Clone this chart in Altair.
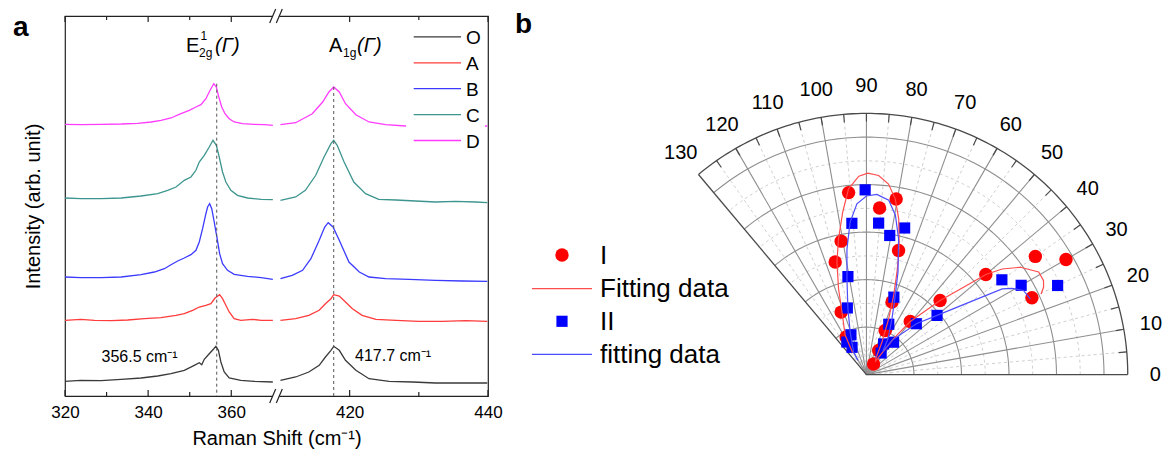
import altair as alt
import numpy as np
import pandas as pd

FONT = "Liberation Sans"

# ---------------- panel a: Raman spectra ----------------
SERIES = ["O", "A", "B", "C", "D"]
COLORS = ["#3a3a3a", "#ff3b3b", "#3b3bff", "#3d958f", "#ff3bff"]

# E2g region (low shift)
O_LOW_W = [320.0, 323.8, 328.7, 333.5, 338.3, 342.3, 345.5, 348.7, 351.1, 352.3, 352.9, 353.5, 354.7, 355.8, 356.3, 356.9, 357.5, 358.3, 359.5, 362.3, 365.5, 370.0]
O_LOW_I = [14.7, 15.7, 15.3, 16.7, 18.0, 20.0, 22.3, 25.7, 30.7, 33.3, 31.3, 36.7, 42.3, 47.3, 49.7, 45.7, 34.0, 24.0, 18.0, 15.7, 14.7, 14.0]
A_LOW_W = [320.0, 323.8, 327.1, 331.1, 335.1, 339.1, 343.1, 345.1, 346.7, 348.7, 350.7, 352.3, 353.9, 355.1, 356.1, 357.2, 357.9, 358.7, 359.5, 360.7, 362.3, 365.1, 367.2, 370.0]
A_LOW_I = [75.7, 76.7, 75.7, 75.3, 76.0, 77.3, 78.3, 79.7, 80.7, 82.3, 85.7, 89.0, 90.7, 92.3, 98.0, 101.3, 97.3, 90.7, 84.0, 77.3, 75.7, 76.7, 75.7, 75.7]
B_LOW_W = [320.0, 323.8, 328.7, 333.5, 338.3, 341.5, 343.9, 345.5, 347.1, 348.7, 350.3, 351.5, 352.3, 353.1, 353.8, 354.3, 354.8, 355.3, 355.9, 356.6, 357.2, 357.9, 359.1, 360.7, 363.9, 367.2, 370.0]
B_LOW_I = [119.0, 118.3, 118.3, 119.0, 121.3, 124.0, 127.3, 131.3, 135.0, 138.0, 141.3, 145.7, 154.0, 167.3, 180.7, 189.0, 192.3, 187.3, 174.0, 157.3, 142.3, 132.3, 125.7, 121.7, 119.7, 118.3, 116.7]
C_LOW_W = [320.0, 323.8, 328.7, 333.5, 338.3, 342.3, 344.7, 346.7, 348.7, 350.3, 351.5, 352.3, 353.5, 354.7, 355.6, 356.4, 357.1, 357.9, 358.7, 359.9, 361.5, 363.9, 367.2, 370.0]
C_LOW_I = [198.0, 197.3, 197.3, 198.0, 200.0, 202.3, 205.7, 209.0, 215.7, 219.0, 225.7, 234.0, 240.7, 249.0, 255.7, 250.7, 239.0, 224.0, 214.0, 205.7, 200.7, 198.0, 196.7, 196.3]
D_LOW_W = [320.0, 323.8, 328.7, 333.5, 337.5, 340.7, 343.1, 345.5, 347.9, 349.9, 351.5, 352.7, 353.9, 354.9, 355.8, 356.4, 357.0, 357.7, 358.5, 359.5, 360.7, 362.7, 365.5, 368.0, 370.0]
D_LOW_I = [271.7, 271.3, 271.7, 272.0, 272.7, 274.0, 275.7, 278.0, 282.3, 285.7, 289.0, 291.3, 297.3, 305.7, 312.3, 309.0, 299.0, 289.0, 282.3, 277.3, 274.0, 272.3, 271.7, 271.3, 270.7]

# A1g region (high shift)
O_HIGH_W = [410.0, 412.2, 414.1, 415.6, 416.5, 417.3, 417.7, 418.5, 419.4, 420.9, 422.8, 425.7, 429.1, 432.4, 436.3, 439.9]
O_HIGH_I = [15.7, 19.0, 24.0, 30.7, 39.0, 45.7, 49.7, 45.7, 35.7, 25.7, 17.3, 14.7, 14.0, 13.0, 13.0, 13.0]
A_HIGH_W = [410.0, 412.2, 414.1, 415.6, 416.5, 417.3, 417.7, 418.5, 419.4, 420.4, 421.8, 423.8, 426.7, 430.0, 433.4, 436.8, 439.9]
A_HIGH_I = [75.7, 77.3, 80.7, 85.7, 92.3, 97.3, 101.3, 100.0, 94.0, 87.3, 80.7, 76.7, 75.7, 74.7, 74.7, 75.3, 74.7]
B_HIGH_W = [410.0, 411.7, 413.2, 414.4, 415.6, 416.4, 416.9, 417.6, 418.5, 419.9, 421.4, 422.8, 425.2, 428.6, 432.4, 436.3, 439.9]
B_HIGH_I = [117.3, 120.7, 125.7, 137.3, 155.7, 169.0, 173.3, 169.0, 155.7, 134.0, 124.0, 119.0, 117.3, 116.7, 115.7, 115.0, 114.7]
C_HIGH_W = [410.0, 412.2, 413.6, 415.1, 416.3, 417.3, 417.7, 418.2, 419.2, 420.6, 422.3, 424.2, 426.7, 429.5, 432.4, 435.3, 438.2, 439.9]
C_HIGH_I = [195.7, 199.0, 205.7, 220.7, 239.0, 252.3, 255.7, 250.7, 234.0, 214.0, 202.3, 196.7, 196.0, 195.0, 194.0, 194.7, 194.0, 193.3]
D_HIGH_W = [410.0, 412.2, 414.6, 416.1, 417.0, 417.7, 418.5, 419.4, 420.9, 422.8, 425.2, 428.1, 430.0, 432.4, 435.3, 439.9]
D_HIGH_I = [271.3, 273.3, 282.3, 294.0, 304.0, 309.0, 304.0, 292.3, 281.3, 274.0, 271.3, 270.0, 269.7, 269.7, 269.3, 270.0]

PEAKS = [356.5, 417.7]
AXIS_TICKS = [320, 330, 340, 350, 360, 420, 430, 440]
MAJOR_TICKS = [320, 340, 360, 420, 440]
MINOR_TICKS = [330, 350, 430]

SPECTRA = {
    "O": [(O_LOW_W, O_LOW_I), (O_HIGH_W, O_HIGH_I)],
    "A": [(A_LOW_W, A_LOW_I), (A_HIGH_W, A_HIGH_I)],
    "B": [(B_LOW_W, B_LOW_I), (B_HIGH_W, B_HIGH_I)],
    "C": [(C_LOW_W, C_LOW_I), (C_HIGH_W, C_HIGH_I)],
    "D": [(D_LOW_W, D_LOW_I), (D_HIGH_W, D_HIGH_I)],
}
rows = []
for s in SERIES:
    for seg, (ws, vals) in zip(["low", "high"], SPECTRA[s]):
        for w, v in zip(ws, vals):
            rows.append({"series": s, "segment": seg, "shift": w, "intensity": v})
spec_df = pd.DataFrame(rows)

A_W, A_H = 423, 380
BREAK = 212  # pixel position of the axis break
x_scale = alt.Scale(domain=[320, 371, 409.5, 440], range=[0, BREAK, BREAK, A_W], nice=False, zero=False)
y_scale = alt.Scale(domain=[0, 380], nice=False, zero=False)
FRAME = "#222222"

one = pd.DataFrame({"k": [0]})

spectra = alt.Chart(spec_df).mark_line(strokeWidth=1.3).encode(
    x=alt.X("shift:Q", scale=x_scale, title="Raman Shift (cm⁻¹)",
            axis=alt.Axis(values=AXIS_TICKS,
                          labelExpr="datum.value % 20 === 0 ? datum.label : ''",
                          ticks=False, domain=False, grid=False, labelFlush=False,
                          labelFontSize=17, labelPadding=8, labelColor="black",
                          titleFontSize=20, titleFontWeight="normal",
                          titlePadding=8, titleColor="black")),
    y=alt.Y("intensity:Q", scale=y_scale, title="Intensity (arb. unit)",
            axis=alt.Axis(labels=False, ticks=False, domain=False, grid=False, minExtent=0,
                          titleFontSize=20, titleFontWeight="normal",
                          titlePadding=22, titleColor="black")),
    color=alt.Color("series:N", scale=alt.Scale(domain=SERIES, range=COLORS), legend=None),
    detail="segment:N",
)

# guides from the D peaks down to the axis
d_low_top = max(D_LOW_I)
d_high_top = max(D_HIGH_I)
guide_df = pd.DataFrame({"shift": PEAKS, "intensity": [d_low_top, d_high_top], "bottom": [0, 0]})
guides = alt.Chart(guide_df).mark_rule(color="#555555", strokeDash=[3, 3], strokeWidth=1).encode(
    x=alt.X("shift:Q", scale=x_scale, title="Raman Shift (cm⁻¹)"),
    y=alt.Y("intensity:Q", scale=y_scale, title="Intensity (arb. unit)"),
    y2="bottom:Q",
)

def tick_layer(values, y0, y1):
    return alt.Chart(pd.DataFrame({"shift": values})).mark_rule(color=FRAME, strokeWidth=1.2).encode(
        x=alt.X("shift:Q", scale=x_scale, title="Raman Shift (cm⁻¹)"),
        y=alt.value(y0), y2=alt.value(y1),
    )

ticks = [
    tick_layer(MAJOR_TICKS, A_H, A_H - 6), tick_layer(MINOR_TICKS, A_H, A_H - 4),
    tick_layer(MAJOR_TICKS, 0, 6), tick_layer(MINOR_TICKS, 0, 4),
]

# axis break marks
breaks = []
for yc in (0, A_H):
    breaks.append(alt.Chart(one).mark_rect(color="white").encode(
        x=alt.value(BREAK - 4.3), x2=alt.value(BREAK + 2.3), y=alt.value(yc - 2), y2=alt.value(yc + 2)))
    for xc in (BREAK - 4.3, BREAK + 2.3):
        breaks.append(alt.Chart(one).mark_rule(color=FRAME, strokeWidth=1.2).encode(
            x=alt.value(xc - 3), x2=alt.value(xc + 3), y=alt.value(yc + 7), y2=alt.value(yc - 7)))

# legend
legend_a = [alt.Chart(one).mark_rect(color="white").encode(
    x=alt.value(341), x2=alt.value(420), y=alt.value(6), y2=alt.value(140))]
for i, (s, c) in enumerate(zip(SERIES, COLORS)):
    yy = 20.9 + i * 25.9
    legend_a.append(alt.Chart(one).mark_rule(color=c, strokeWidth=1.3).encode(
        x=alt.value(348.7), x2=alt.value(396), y=alt.value(yy)))
    legend_a.append(alt.Chart(one).mark_text(text=s, fontSize=19, align="left", baseline="middle",
                                             color="black").encode(x=alt.value(401), y=alt.value(yy + 1)))

def label(text, x, y, size, **kw):
    return alt.Chart(one).mark_text(text=text, fontSize=size, color="black", **kw).encode(
        x=alt.value(x), y=alt.value(y))

labels_a = [
    label("E", 121, 36, 20, align="left", baseline="alphabetic"),
    label("1", 135.5, 24, 12, align="left", baseline="alphabetic"),
    label("2g", 134, 41, 12, align="left", baseline="alphabetic"),
    label("(Γ)", 150, 36, 20, align="left", baseline="alphabetic", fontStyle="italic"),
    label("A", 264, 36, 20, align="left", baseline="alphabetic"),
    label("1g", 278, 41, 12, align="left", baseline="alphabetic"),
    label("(Γ)", 292, 36, 20, align="left", baseline="alphabetic", fontStyle="italic"),
    label(f"{PEAKS[0]} cm⁻¹", 112.7, 341, 16, align="right", baseline="middle"),
    label(f"{PEAKS[1]} cm⁻¹", 290, 340, 16, align="left", baseline="middle"),
    label("a", -52, 11.5, 28, align="left", baseline="middle", fontWeight="bold"),
]

panel_a = alt.layer(spectra, guides, *ticks, *breaks, *legend_a, *labels_a).properties(
    width=A_W, height=A_H, view=alt.ViewBackground(stroke=FRAME, strokeWidth=1.2))

# ---------------- panel b: polar plot ----------------
I_ANGLE = [24.9, 30, 35, 40, 45.2, 50.5, 56.3, 63.2, 67, 70.6, 75.5, 80.4, 85.5, 95.6, 100.7, 105.5, 112, 118.3]
I_R = [3.84, 4.85, 4.34, 3.28, 2.20, 1.45, 0.27, 0.57, 1.01, 1.62, 2.70, 3.75, 3.52, 3.85, 2.86, 2.46, 1.42, 0.90]
II_ANGLE = [25, 30, 35, 40, 45.6, 50.1, 55.8, 60.8, 66.1, 70.5, 75.4, 80.5, 85.4, 90.4, 95.5, 100.7, 106, 111.3, 117.8, 121]
II_R = [4.44, 3.76, 3.48, 1.94, 1.50, 0.89, 0.55, 0.74, 1.16, 1.73, 3.19, 2.97, 3.20, 3.89, 3.20, 2.10, 1.46, 0.90, 0.65, 0.80]
RED_FIT_ANGLE = [122, 118.4, 111.4, 108, 104.7, 101.6, 98.3, 95.5, 92.2, 89.6, 86.5, 83.4, 80.7, 78.3, 75.4, 73.4, 71, 68.3, 64.5, 60,
                 56, 53, 50.5, 45.2, 42, 40, 37.9, 34.9, 30.8, 28, 26.3, 24.8]
RED_FIT_R = [0.55, 0.94, 1.41, 1.90, 2.45, 2.92, 3.46, 3.93, 4.18, 4.24, 4.20, 4.04, 3.75, 3.35, 2.74, 2.25, 1.76, 1.26, 0.76, 0.40,
             0.35, 0.95, 1.45, 2.20, 2.75, 3.28, 3.62, 3.95, 4.22, 4.22, 4.16, 4.05]
BLUE_FIT_ANGLE = [121, 119.6, 110.9, 105.7, 101.5, 98.8, 96.1, 93.2, 90, 86.7, 82.7, 79.7, 76.7, 72.9, 70, 65.4, 59, 55, 53.3, 45.6,
                  40, 35.4, 32.3, 30.7, 28.2, 24.8]
BLUE_FIT_R = [0.35, 0.55, 0.96, 1.44, 2.06, 2.68, 3.23, 3.60, 3.76, 3.80, 3.70, 3.41, 2.94, 2.26, 1.77, 1.29, 0.88, 0.60, 0.90, 1.50,
              1.94, 2.60, 3.38, 3.56, 3.75, 3.80]

ANGLE_LABELS = list(range(0, 131, 10))
R_MAX = 5.5
B_W, B_H = 639, 380
px_scale = alt.Scale(domain=[-7.25, 6.2], nice=False, zero=False)
py_scale = alt.Scale(domain=[-0.45, 7.55], nice=False, zero=False)
RAD = "PI/180"

def xy(chart, r="r", a="angle", sx="px", sy="py"):
    return chart.transform_calculate(**{
        sx: f"datum.{r}*cos(datum.{a}*{RAD})",
        sy: f"datum.{r}*sin(datum.{a}*{RAD})",
    })

def X(f):
    return alt.X(f"{f}:Q", scale=px_scale, axis=None)

def Y(f):
    return alt.Y(f"{f}:Q", scale=py_scale, axis=None)

def spokes(angles, r0, r1, **style):
    df = pd.DataFrame({"angle": angles, "r0": r0, "r1": r1})
    ch = alt.Chart(df).mark_rule(**style)
    ch = xy(xy(ch, r="r0", sx="x0", sy="y0"), r="r1", sx="x1", sy="y1")
    return ch.encode(x=X("x0"), y=Y("y0"), x2="x1:Q", y2="y1:Q")

def rings(radii, **style):
    arc = np.arange(0, 130.5, 1.0)
    df = pd.DataFrame([{"r": rr, "angle": a} for rr in radii for a in arc])
    return xy(alt.Chart(df).mark_line(**style)).encode(
        x=X("px"), y=Y("py"), detail="r:N", order="angle:Q")

SOLID = "#8f8f8f"
DASH = "#c9c9c9"
EDGE = "#4a4a4a"
grid = [
    spokes(list(range(5, 130, 10)), 0, R_MAX, color=DASH, strokeWidth=0.9, strokeDash=[3, 3]),
    rings([0.5, 1.5, 2.5, 3.5, 4.5], color=DASH, strokeWidth=0.9, strokeDash=[3, 3]),
    spokes(list(range(10, 130, 10)), 0, R_MAX, color=SOLID, strokeWidth=1.1),
    rings([1, 2, 3, 4, 5], color=SOLID, strokeWidth=1.1),
    spokes([0, 130], 0, R_MAX, color=EDGE, strokeWidth=1.3),
    rings([R_MAX], color=EDGE, strokeWidth=1.3),
    spokes(list(range(5, 130, 5)), R_MAX - 0.17, R_MAX, color=EDGE, strokeWidth=1.2),
]

lab_df = pd.DataFrame({"angle": ANGLE_LABELS, "r": 6.08, "txt": [str(a) for a in ANGLE_LABELS]})
angle_text = xy(alt.Chart(lab_df).mark_text(fontSize=20, color="black", align="center", baseline="middle")).encode(
    x=X("px"), y=Y("py"), text="txt:N")

pts_i = xy(alt.Chart(pd.DataFrame({"angle": I_ANGLE, "r": I_R})).mark_point(
    shape="circle", filled=True, size=180, color="#ff0000", opacity=1, strokeWidth=0)).encode(x=X("px"), y=Y("py"))
pts_ii = xy(alt.Chart(pd.DataFrame({"angle": II_ANGLE, "r": II_R})).mark_point(
    shape="square", filled=True, size=125, color="#0000ff", opacity=1, strokeWidth=0)).encode(x=X("px"), y=Y("py"))

def fit(angles, radii, color):
    df = pd.DataFrame({"angle": angles, "r": radii, "i": range(len(angles))})
    return xy(alt.Chart(df).mark_line(color=color, strokeWidth=1.2)).encode(
        x=X("px"), y=Y("py"), order="i:Q")

fit_red = fit(RED_FIT_ANGLE, RED_FIT_R, "#ff4d4d")
fit_blue = fit(BLUE_FIT_ANGLE, BLUE_FIT_R, "#4d4dff")

legend_b = [
    alt.Chart(one).mark_point(shape="circle", filled=True, size=180, color="#ff0000", opacity=1, strokeWidth=0).encode(
        x=alt.value(40), y=alt.value(239)),
    alt.Chart(one).mark_rule(color="#ff4d4d", strokeWidth=1.2).encode(x=alt.value(10), x2=alt.value(70), y=alt.value(272.7)),
    alt.Chart(one).mark_point(shape="square", filled=True, size=125, color="#0000ff", opacity=1, strokeWidth=0).encode(
        x=alt.value(40), y=alt.value(305.3)),
    alt.Chart(one).mark_rule(color="#4d4dff", strokeWidth=1.2).encode(x=alt.value(10), x2=alt.value(70), y=alt.value(338.3)),
    label("I", 78, 240, 26, align="left", baseline="middle"),
    label("Fitting data", 78, 273, 26, align="left", baseline="middle"),
    label("II", 78, 306, 26, align="left", baseline="middle"),
    label("fitting data", 78, 339, 26, align="left", baseline="middle"),
    label("b", -7, 9, 28, align="left", baseline="middle", fontWeight="bold"),
]

panel_b = alt.layer(*grid, angle_text, pts_i, pts_ii, fit_red, fit_blue, *legend_b).properties(
    width=B_W, height=B_H)

chart = alt.hconcat(panel_a, panel_b, spacing=12).configure(
    font=FONT, padding={"left": 12, "top": 7, "right": 0, "bottom": 0}, background="white"
).configure_view(stroke=None)

chart.save("out.html", embed_options={"renderer": "svg", "actions": False})
